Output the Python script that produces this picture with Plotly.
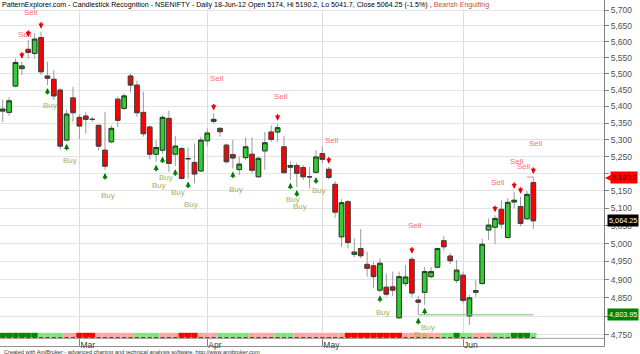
import numpy as np
import plotly.graph_objects as go

TITLE_MAIN = ("PatternExplorer.com - Candlestick Recognition - NSENIFTY - Daily 18-Jun-12 "
              "Open 5174, Hi 5190.2, Lo 5041.7, Close 5064.25 (-1.5%) , ")
TITLE_PATTERN = "Bearish Engulfing"
FOOTER = ("Created with AmiBroker - advanced charting and technical analysis software. "
          "http://www.amibroker.com")

# daily bars, index 0 = 13-Feb-12 ... 83 = 18-Jun-12
opens = [5386, 5382, 5462, 5516, 5576, 5563, 5613, 5493, 5483, 5450,
         5299, 5426, 5367, 5371, 5361, 5343, 5269, 5294, 5422, 5394,
         5493, 5465, 5382, 5338, 5257, 5269, 5364, 5257, 5274, 5244,
         5233, 5208, 5297, 5355, 5334, 5284, 5256, 5212, 5247, 5257,
         5191, 5267, 5323, 5323, 5279, 5219, 5224, 5218, 5191, 5204,
         5259, 5213, 5169, 5019, 5119, 4970, 4986, 4942, 4938, 4871,
         4879, 4880, 4796, 4889, 4956, 4844, 4865, 4908, 4934, 5008,
         4965, 4898, 4912, 4801, 4870, 4889, 5038, 5046, 5097, 5017,
         5118, 5105, 5070, 5174]
highs = [5420, 5428, 5547, 5537, 5605, 5626, 5631, 5537, 5511, 5455,
         5391, 5460, 5376, 5384, 5368, 5346, 5384, 5343, 5430, 5440,
         5501, 5479, 5445, 5343, 5299, 5374, 5387, 5311, 5279, 5277,
         5289, 5309, 5334, 5379, 5338, 5289, 5299, 5250, 5307, 5307,
         5250, 5323, 5343, 5348, 5311, 5236, 5232, 5225, 5220, 5269,
         5279, 5220, 5179, 5126, 5124, 5014, 5041, 4977, 4949, 4959,
         4917, 4922, 4922, 4940, 4963, 4855, 4935, 4935, 4989, 5021,
         4973, 4954, 4922, 4858, 4899, 5014, 5071, 5080, 5123, 5129,
         5147, 5133, 5150, 5190.2]
lows = [5353, 5372, 5458, 5496, 5547, 5547, 5496, 5465, 5420, 5271,
        5297, 5353, 5302, 5318, 5353, 5268, 5211, 5289, 5338, 5389,
        5442, 5369, 5309, 5242, 5235, 5259, 5205, 5222, 5183, 5186,
        5172, 5205, 5281, 5348, 5309, 5230, 5215, 5196, 5240, 5201,
        5189, 5211, 5294, 5294, 5201, 5182, 5161, 5182, 5157, 5199,
        5230, 5183, 5073, 4991, 4986, 4962, 4959, 4908, 4878, 4865,
        4853, 4855, 4793, 4881, 4853, 4803.95, 4831, 4903, 4931, 4980,
        4943, 4890, 4835, 4777, 4853, 4886, 5010, 4998, 5042, 5014,
        5100, 5049, 5068, 5041.7]
closes = [5392, 5417, 5535, 5524, 5566, 5608, 5506, 5486, 5432, 5281,
          5377, 5381, 5341, 5361, 5361, 5281, 5222, 5334, 5358, 5432,
          5465, 5381, 5318, 5257, 5277, 5367, 5230, 5281, 5186, 5244,
          5199, 5299, 5320, 5361, 5324, 5235, 5246, 5228, 5279, 5210,
          5245, 5291, 5301, 5336, 5203, 5224, 5201, 5191, 5191, 5249,
          5242, 5189, 5089, 5116, 5003, 4976, 4966, 4931, 4908, 4945,
          4860, 4871, 4908, 4907, 4863, 4838, 4922, 4922, 4986, 4991,
          4952, 4926, 4843, 4850, 4865, 4998, 5052, 5071, 5055, 5117,
          5123, 5057, 5140, 5064.25]
bar_idx = list(range(len(opens)))

month_tick_idx = [12, 32, 50, 72]
month_tick_text = ["Mar", "Apr", "May", "Jun"]

price_ticks = [4750, 4800, 4850, 4900, 4950, 5000, 5050, 5100, 5150, 5200,
               5250, 5300, 5350, 5400, 5450, 5500, 5550, 5600, 5650, 5700]
# tick labels hidden behind the price boxes in the reference
hidden_tick_labels = [4800, 5200]

# trend ribbon: runs of (state, number of bars)
trend_runs = [("DG", 6), ("LG", 4), ("PK", 2), ("RD", 3), ("PK", 6), ("LG", 4),
              ("PK", 3), ("RD", 3), ("PK", 3), ("LG", 5), ("PK", 4), ("LG", 3),
              ("PK", 8), ("RD", 9), ("PK", 6), ("LG", 2), ("DG", 1), ("LG", 2),
              ("PK", 3), ("LG", 3), ("DG", 3), ("LG", 1)]
trend_colors = {"DG": "#008a00", "LG": "#86e086", "PK": "#ffa6a6", "RD": "#ff0000"}

# signals (bar index, label level)
sell_idx = [-1, 3, 4, 6, 33, 43, 51, 64, 77, 80, 81, 83]
sell_label = [5521, 5621, 5693, None, 5484, 5430, 5299, 5052, 5175, 5236, 5220, 5289]
buy_idx = [7, 10, 16, 24, 25, 27, 29, 36, 45, 46, 49, 59, 65, 66]
buy_label = [5404, 5240, 5138, 5167, 5188, 5144, 5111, 5154, 5125, 5106, 5152, 4811, 4752, 4771]

support_level = 4803.95
support_from = 65
last_high = 5190.2
last_close = 5064.25

FONT = "Liberation Sans, Arial, sans-serif"
n = len(bar_idx)
trend_state = [s for s, k in trend_runs for _ in range(k)]

fig = go.Figure()

# wicks
fig.add_trace(go.Candlestick(
    x=bar_idx, open=opens, high=highs, low=lows, close=closes,
    increasing=dict(line=dict(color="#9a9a9a", width=1), fillcolor="rgba(0,0,0,0)"),
    decreasing=dict(line=dict(color="#9a9a9a", width=1), fillcolor="rgba(0,0,0,0)"),
    whiskerwidth=0, hoverinfo="skip"))
# bodies
body_hi = [max(o, c) for o, c in zip(opens, closes)]
body_lo = [min(o, c) for o, c in zip(opens, closes)]
fig.add_trace(go.Candlestick(
    x=bar_idx, open=opens, high=body_hi, low=body_lo, close=closes,
    increasing=dict(line=dict(color="#1f3f1f", width=1), fillcolor="#33cc33"),
    decreasing=dict(line=dict(color="#404040", width=1), fillcolor="#ff0000"),
    whiskerwidth=0, hoverinfo="skip"))

# support line and last-high marker
fig.add_trace(go.Scatter(x=[bar_idx[support_from], bar_idx[-1]], y=[support_level] * 2,
                         mode="lines", line=dict(color="#74c074", width=1), hoverinfo="skip"))
fig.add_trace(go.Scatter(x=[bar_idx[-2], bar_idx[-1]], y=[last_high] * 2,
                         mode="lines", line=dict(color="#ff8080", width=1), hoverinfo="skip"))

# trend ribbon on an auxiliary axis
fig.add_trace(go.Bar(x=bar_idx, y=[4.8] * n, base=8.4, width=1, yaxis="y2",
                     marker=dict(color=[trend_colors[s] for s in trend_state], line=dict(width=0)),
                     hoverinfo="skip"))
fig.add_trace(go.Scatter(x=bar_idx, y=[8.2] * n, yaxis="y2", mode="markers",
                         marker=dict(symbol="line-ew", size=3, line=dict(color="#e00000", width=1.5)),
                         hoverinfo="skip"))

ann = []
ann.append(dict(x=0, y=1, xref="paper", yref="paper", xanchor="left", yanchor="top",
                text=f"{TITLE_MAIN}<span style='color:#c0504d'>{TITLE_PATTERN}</span>",
                font=dict(family=FONT, size=7.1, color="#000000"), bgcolor="white",
                borderpad=0, xshift=1, showarrow=False))
ann.append(dict(x=0, y=0, xref="paper", yref="paper", xanchor="left", yanchor="top",
                text=FOOTER, font=dict(family=FONT, size=5.6, color="#333333"),
                xshift=2, yshift=-0.5, showarrow=False))

for i, lv in zip(sell_idx, sell_label):
    if 0 <= i < n:
        ann.append(dict(x=i, y=np.log10(highs[i]), xref="x", yref="y", text="",
                        showarrow=True, arrowhead=2, arrowsize=0.7, arrowwidth=1.5,
                        arrowcolor="#ee0000", ax=0, ay=-11, standoff=3))
    if lv is not None:
        ann.append(dict(x=i, y=np.log10(lv), xref="x", yref="y", text="Sell",
                        font=dict(family=FONT, size=8, color="#ff7070"),
                        showarrow=False, xshift=3))
for i, lv in zip(buy_idx, buy_label):
    ann.append(dict(x=i, y=np.log10(lows[i]), xref="x", yref="y", text="",
                    showarrow=True, arrowhead=2, arrowsize=0.7, arrowwidth=1.5,
                    arrowcolor="#007a00", ax=0, ay=11, standoff=3))
    ann.append(dict(x=i, y=np.log10(lv), xref="x", yref="y", text="Buy",
                    font=dict(family=FONT, size=8, color="#9fb45a"),
                    showarrow=False, xshift=3))

# right-side price boxes
ann.append(dict(x=1, y=np.log10(last_high), xref="paper", yref="y", xanchor="left",
                text="5,190.2", bgcolor="#ff0000", font=dict(family=FONT, size=7.3, color="#3a0000"),
                borderpad=1, xshift=6, showarrow=False))
ann.append(dict(x=1, y=np.log10(last_high), xref="paper", yref="y", xanchor="left",
                text="\u25C0", font=dict(family="DejaVu Sans", size=8, color="#ff0000"),
                borderpad=0, xshift=0, showarrow=False))
ann.append(dict(x=1, y=np.log10(last_close), xref="paper", yref="y", xanchor="left",
                text="5,064.25", bgcolor="#000000", font=dict(family=FONT, size=7.3, color="#ffffff"),
                borderpad=1, xshift=3, showarrow=False))
ann.append(dict(x=1, y=np.log10(support_level), xref="paper", yref="y", xanchor="left",
                text="4,803.95", bgcolor="#008000", font=dict(family=FONT, size=7.3, color="#ffffff"),
                borderpad=1, xshift=3, showarrow=False))

fig.update_layout(
    width=640, height=354, autosize=False,
    margin=dict(l=0, r=36, t=0, b=8),
    paper_bgcolor="white", plot_bgcolor="white",
    showlegend=False, boxgap=0.28, boxgroupgap=0, barmode="overlay",
    xaxis=dict(range=[-0.42, 94.05], rangeslider=dict(visible=False),
               tickvals=month_tick_idx, ticktext=month_tick_text,
               ticks="inside", ticklen=7, tickcolor="#808080",
               ticklabelposition="inside right", ticklabelstandoff=-8,
               tickfont=dict(family=FONT, size=8.5, color="#404040"),
               showgrid=True, gridcolor="#dcdcdc", gridwidth=1,
               showline=True, linecolor="#909090", mirror=True, zeroline=False),
    yaxis=dict(type="log", range=[3.67400, 3.75834], side="right",
               tickvals=price_ticks,
               ticktext=["" if v in hidden_tick_labels else f"{v:,}" for v in price_ticks],
               ticks="outside", ticklen=4, tickcolor="#808080",
               tickfont=dict(family=FONT, size=8.5, color="#505050"),
               showgrid=True, gridcolor="#e3e3e3", gridwidth=1,
               showline=True, linecolor="#808080", mirror=True, zeroline=False,
               automargin=False),
    yaxis2=dict(overlaying="y", range=[0, 346], visible=False, fixedrange=True),
    annotations=ann,
    shapes=[dict(type="line", xref="paper", yref="paper", x0=0, x1=1,
                 y0=7.6 / 346, y1=7.6 / 346, line=dict(color="#a0a0a0", width=1))],
)

fig.write_html("out.html")
